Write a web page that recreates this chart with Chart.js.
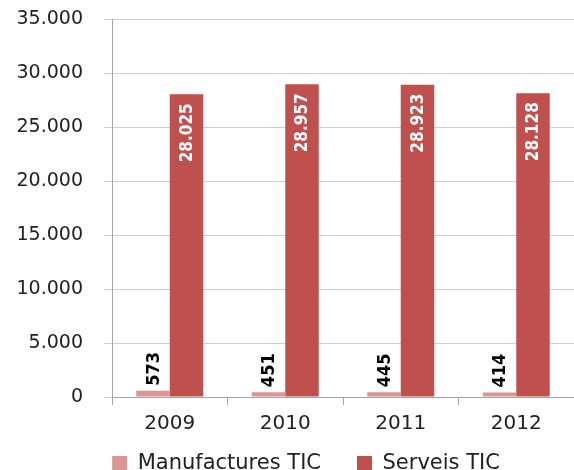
<!DOCTYPE html>
<html>
<head>
<meta charset="utf-8">
<script src="https://cdn.jsdelivr.net/npm/chart.js@4"></script>
<style>
    html, body { margin: 0; padding: 0; background: #ffffff; }
    #wrap { width: 574px; height: 470px; }
</style>
</head>
<body>
<div id="wrap"><canvas id="tic" width="574" height="470"></canvas></div>
<script>
// Dades del gràfic
const anys = ['2009', '2010', '2011', '2012'];
const manufactures = [573, 451, 445, 414];
const serveis = [28025, 28957, 28923, 28128];
const nomsSeries = ['Manufactures TIC', 'Serveis TIC'];

const colorClar = '#d99694';
const colorFosc = '#c0504d';

// separació entre els elements de la llegenda
const padLlegenda = 36;
const extraLlegenda = padLlegenda - 10;

function formatMiles(v) {
    return v.toString().replace(/\B(?=(\d{3})+(?!\d))/g, '.');
}

// Etiquetes girades sobre les barres
const etiquetesBarres = {
    id: 'etiquetesBarres',
    afterDatasetsDraw(chart) {
        const ctx = chart.ctx;
        chart.data.datasets.forEach((ds, i) => {
            const meta = chart.getDatasetMeta(i);
            meta.data.forEach((bar, j) => {
                const text = formatMiles(ds.data[j]);
                ctx.save();
                ctx.textBaseline = 'middle';
                if (i === 1) {
                    ctx.font = 'bold 17px "DejaVu Sans Condensed", "DejaVu Sans"';
                    ctx.translate(bar.x, bar.y + 9);
                    ctx.rotate(-Math.PI / 2);
                    ctx.textAlign = 'right';
                    ctx.fillStyle = '#ffffff';
                } else {
                    ctx.font = 'bold 18px "DejaVu Sans Condensed", "DejaVu Sans"';
                    ctx.translate(bar.x, bar.y - 5);
                    ctx.rotate(-Math.PI / 2);
                    ctx.textAlign = 'left';
                    ctx.fillStyle = '#000000';
                }
                ctx.fillText(text, 0, 1);
                ctx.restore();
            });
        });
    }
};

// Recol·loca la llegenda (més separació sense perdre alçada del gràfic)
const llegendaDreta = {
    id: 'llegendaDreta',
    afterLayout(chart) {
        chart.legend.left += 17;
        chart.legend.right += 17;
        chart.legend.top -= extraLlegenda;
        chart.legend.bottom -= extraLlegenda;
    }
};

new Chart(document.getElementById('tic'), {
    type: 'bar',
    data: {
        labels: anys,
        datasets: [
            { label: nomsSeries[0], data: manufactures, backgroundColor: colorClar },
            { label: nomsSeries[1], data: serveis, backgroundColor: colorFosc }
        ]
    },
    options: {
        responsive: false,
        animation: false,
        layout: { autoPadding: false, padding: { top: 19, right: -4, bottom: -14 - extraLlegenda, left: 0 } },
        datasets: {
            bar: { categoryPercentage: 0.58, barPercentage: 1.0 }
        },
        scales: {
            x: {
                grid: {
                    display: true,
                    drawOnChartArea: false,
                    tickLength: 8,
                    color: '#a6a6a6'
                },
                border: { color: '#a6a6a6' },
                ticks: {
                    color: '#222222',
                    font: { family: '"DejaVu Sans"', size: 20 },
                    padding: 7
                }
            },
            y: {
                min: 0,
                max: 35000,
                afterFit(scale) {
                    scale.width = 112;
                    scale.paddingTop = 0;
                    scale.paddingBottom = 0;
                },
                grid: { color: '#d0d0d0', tickLength: 8 },
                border: { color: '#a6a6a6' },
                ticks: {
                    stepSize: 5000,
                    color: '#222222',
                    padding: 21,
                    font: { family: '"DejaVu Sans"', size: 19 },
                    callback: v => formatMiles(v)
                }
            }
        },
        plugins: {
            legend: {
                position: 'bottom',
                labels: {
                    boxWidth: 15,
                    boxHeight: 15,
                    color: '#222222',
                    padding: padLlegenda,
                    font: { family: '"DejaVu Sans"', size: 21 }
                }
            },
            tooltip: { enabled: false }
        }
    },
    plugins: [etiquetesBarres, llegendaDreta]
});
</script>
</body>
</html>
